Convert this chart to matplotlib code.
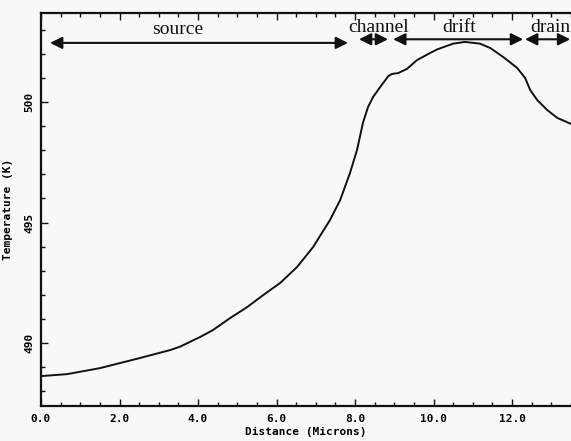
import matplotlib
matplotlib.use("Agg")
import matplotlib.pyplot as plt
from matplotlib.ticker import MultipleLocator, FormatStrFormatter

# Temperature profile along the device (microns vs Kelvin)
distance_um = [0.0, 0.66, 1.5, 2.52, 3.29, 3.54, 4.05, 4.38, 4.82, 5.25, 5.66,
               6.09, 6.52, 6.93, 7.36, 7.62, 7.87, 8.05, 8.20, 8.33, 8.46, 8.64,
               8.85, 8.94, 9.10, 9.32, 9.58, 9.91, 10.09, 10.50, 10.80, 11.18,
               11.44, 11.77, 12.13, 12.33, 12.46, 12.64, 12.89, 13.15, 13.50]
temperature_k = [488.63, 488.71, 488.96, 489.38, 489.71, 489.85, 490.25, 490.54,
                 491.04, 491.49, 491.99, 492.49, 493.15, 493.98, 495.10, 495.93,
                 497.05, 498.01, 499.13, 499.79, 500.21, 500.62, 501.08, 501.16,
                 501.20, 501.37, 501.74, 502.03, 502.18, 502.42, 502.49, 502.42,
                 502.24, 501.87, 501.41, 501.00, 500.50, 500.08, 499.67, 499.34,
                 499.09]

# Device regions: label, arrow extent and label position
region_labels = ["source", "channel", "drift", "drain"]
region_start = [0.23, 8.10, 8.97, 12.33]
region_end = [7.82, 8.84, 12.28, 13.48]
label_x = [3.49, 8.59, 10.65, 12.97]

x_ticks = [0.0, 2.0, 4.0, 6.0, 8.0, 10.0, 12.0]
y_ticks = [490, 495, 500]

bg = "#f8f8f8"
ink = "#111111"
fig = plt.figure(figsize=(5.71, 4.41), dpi=100, facecolor=bg)
ax = fig.add_axes([41 / 571, 35 / 441, 1 - 41 / 571, 393 / 441])
ax.set_facecolor(bg)

ax.plot(distance_um, temperature_k, color=ink, lw=1.4)

ax.set_xlim(0, 13.5)
ax.set_ylim(487.39, 503.69)

mono = "DejaVu Sans Mono"
ax.set_xticks(x_ticks)
ax.xaxis.set_major_formatter(FormatStrFormatter("%.1f"))
ax.xaxis.set_minor_locator(MultipleLocator(0.5))
ax.set_yticks(y_ticks)
ax.yaxis.set_major_formatter(FormatStrFormatter("%d"))
ax.yaxis.set_minor_locator(MultipleLocator(1))

ax.tick_params(which="both", direction="in", top=True, right=False,
               color=ink, width=1.0)
ax.tick_params(which="major", length=5)
ax.tick_params(which="minor", length=3)
ax.tick_params(axis="x", which="major", pad=6)
ax.tick_params(axis="y", which="major", pad=5)
for lab in ax.get_xticklabels() + ax.get_yticklabels():
    lab.set_fontfamily(mono)
    lab.set_fontweight("bold")
    lab.set_fontsize(8)
for lab in ax.get_yticklabels():
    lab.set_rotation(90)
    lab.set_va("center")

ax.set_xlabel("Distance (Microns)", fontfamily=mono, fontweight="bold",
              fontsize=8, labelpad=2)
ax.set_ylabel("Temperature (K)", fontfamily=mono, fontweight="bold",
              fontsize=8, labelpad=8)

for side in ["left", "bottom", "top"]:
    ax.spines[side].set_linewidth(1.6)
    ax.spines[side].set_color(ink)
ax.spines["right"].set_visible(False)

# Region arrows and labels above the curve
arrow_y = [502.45, 502.6, 502.6, 502.6]
label_y = [503.0, 503.07, 503.07, 503.1]
for name, x0, x1, xl, ya, yl in zip(region_labels, region_start, region_end,
                                     label_x, arrow_y, label_y):
    ax.annotate("", xy=(x1, ya), xytext=(x0, ya),
                arrowprops=dict(arrowstyle="<|-|>", color=ink, lw=1.5,
                                mutation_scale=18, shrinkA=0, shrinkB=0),
                annotation_clip=False)
    ax.text(xl, yl, name, ha="center", va="center",
            fontfamily="Liberation Serif", fontsize=14, color=ink,
            clip_on=False)

fig.savefig("out.png", dpi=100, facecolor=bg)
